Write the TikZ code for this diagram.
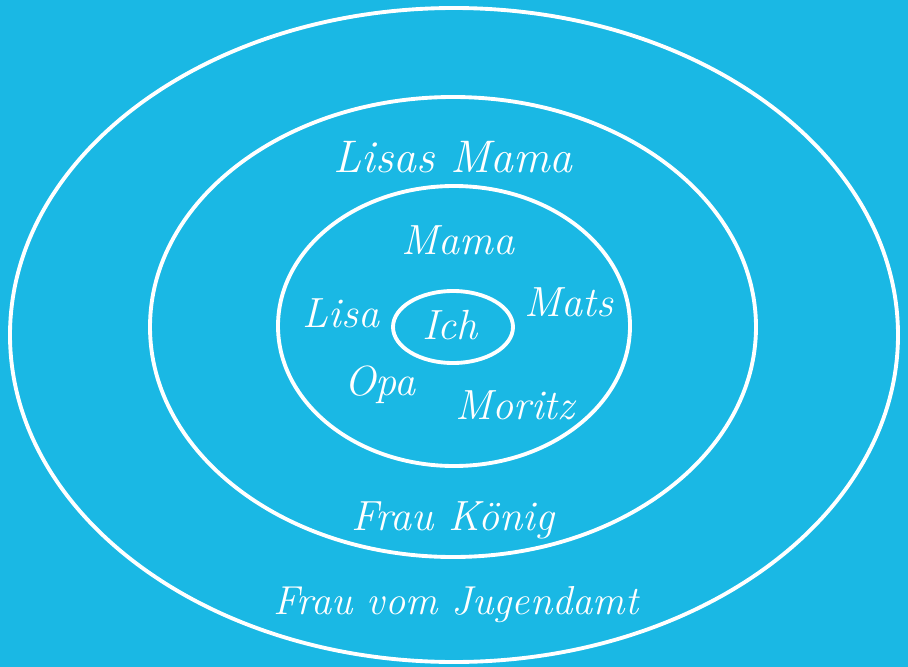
\documentclass[tikz,border=0pt]{standalone}
\usepackage{xcolor}
\usepackage{tikz}
\usetikzlibrary{shapes.geometric}
\definecolor{csky}{HTML}{1AB8E4}
\tikzset{
  ring/.style={draw=white,line width=2.2pt,ellipse,inner sep=0pt},
  person/.style={text=white,font=\fontsize{24}{28}\selectfont\itshape,inner sep=0pt},
}
\begin{document}
\begin{tikzpicture}

% ================= background =================
\fill[csky] (0,0) rectangle (18.16,-13.34);

% ================= circles =================
\node[ring,minimum width=17.76cm,minimum height=13.08cm] (welt) at (9.08,-6.70) {};
\node[ring,minimum width=12.12cm,minimum height=9.20cm] (bekannt) at (9.06,-6.54) {};
\node[ring,minimum width=7.04cm,minimum height=5.60cm] (familie) at (9.08,-6.52) {};
\node[ring,minimum width=2.40cm,minimum height=1.44cm] (ich) at (9.06,-6.54) {};

% ================= names =================
\node[person] (ichtxt) at (9.00,-6.50) {Ich};
\node[person] (mama) at (9.16,-4.80) {Mama};
\node[person] (lisa) at (6.82,-6.26) {Lisa};
\node[person] (mats) at (11.38,-6.04) {Mats};
\node[person] (opa) at (7.60,-7.70) {Opa};
\node[person] (moritz) at (10.30,-8.10) {Moritz};
\node[person,font=\fontsize{26}{30}\selectfont\itshape] (lisasmama) at (9.06,-3.14) {Lisas Mama};
\node[person] (koenig) at (9.06,-10.40) {Frau König};
\node[person,font=\fontsize{23}{28}\selectfont\itshape] (jugendamt) at (9.12,-12.10) {Frau vom Jugendamt};

\end{tikzpicture}
\end{document}
